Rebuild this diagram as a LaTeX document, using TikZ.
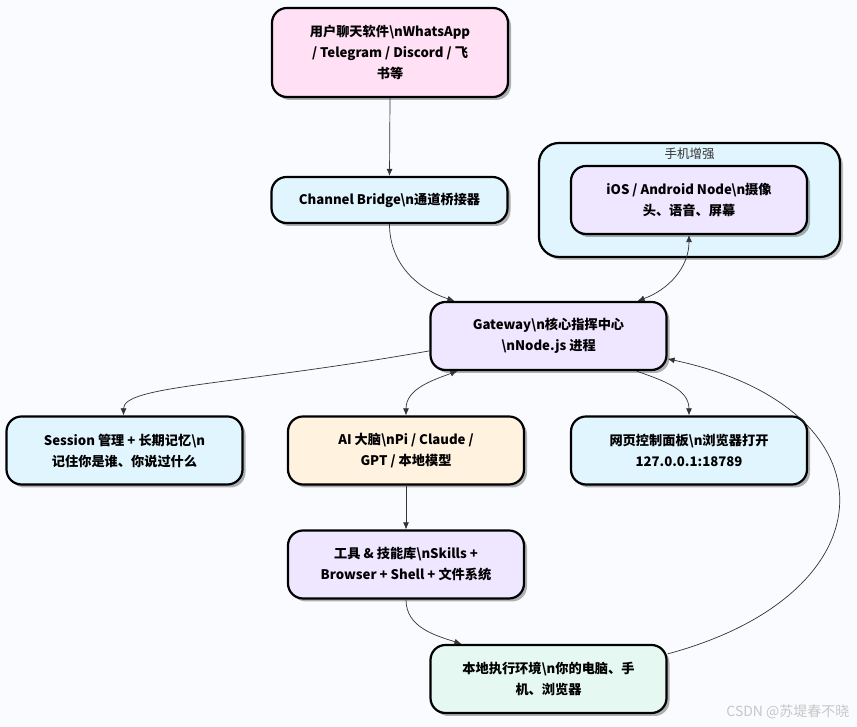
\documentclass[tikz,border=0pt]{standalone}
\usepackage{fontspec}
\setmainfont{Noto Sans CJK SC}
\usetikzlibrary{arrows.meta,shadows}
\definecolor{bgcol}{HTML}{FAFBFE}
\definecolor{pinkfill}{HTML}{FFE0F5}
\definecolor{bluefill}{HTML}{E1F5FE}
\definecolor{lilacfill}{HTML}{EFE6FF}
\definecolor{orangefill}{HTML}{FFF3E0}
\definecolor{mintfill}{HTML}{E6F8F2}
\newcommand{\bsn}{\textbackslash{}n}

\begin{document}
\begin{tikzpicture}[x=1pt,y=1pt,
	box/.style={rectangle,rounded corners=15pt,draw,line width=2.2pt,minimum width=236pt,minimum height=68pt,align=center,
		font=\bfseries\fontsize{13.2}{21}\selectfont,drop shadow={shadow xshift=3pt,shadow yshift=-3pt,opacity=.3,fill=black}},
	group/.style={rectangle,rounded corners=20pt,draw,line width=2.2pt,fill=bluefill,minimum width=301pt,minimum height=114pt,
		drop shadow={shadow xshift=3pt,shadow yshift=-3pt,opacity=.25,fill=black}},
	link/.style={draw=black!80,line width=.7pt,-{Latex[length=7pt,width=6pt]}},
	both/.style={link,{Latex[length=7pt,width=6pt]}-{Latex[length=7pt,width=6pt]}}
	]
	\useasboundingbox[fill=bgcol] (0,0) rectangle (857,727);

	\node[box,fill=pinkfill,minimum height=89pt](user) at (390,674.5){用户聊天软件\bsn WhatsApp\\/ Telegram / Discord / 飞\\书等};
	\node[box,fill=bluefill,minimum height=46pt](bridge) at (389.5,527){Channel Bridge\bsn 通道桥接器};
	\node[group](phone) at (689.5,527){};
	\node[font=\fontsize{12.5}{14}\selectfont,text=black!80](phonelabel) at (689.5,573){手机增强};
	\node[box,fill=lilacfill](ios) at (689,527){iOS / Android Node\bsn 摄像\\头、语音、屏幕};
	\node[box,fill=lilacfill](gw) at (548.5,391){Gateway\bsn 核心指挥中心\\\bsn Node.js 进程};
	\node[box,fill=bluefill](session) at (124.5,276.5){Session 管理 + 长期记忆\bsn\\记住你是谁、你说过什么};
	\node[box,fill=orangefill](ai) at (406,276.5){AI 大脑\bsn Pi / Claude /\\GPT / 本地模型};
	\node[box,fill=bluefill](web) at (689,276.5){网页控制面板\bsn 浏览器打开\\127.0.0.1:18789};
	\node[box,fill=lilacfill](tools) at (406,162.5){工具 \& 技能库\bsn Skills +\\Browser + Shell + 文件系统};
	\node[box,fill=mintfill](local) at (548.5,48){本地执行环境\bsn 你的电脑、手\\机、浏览器};
	\node[text=black!22,font=\fontsize{14}{16}\selectfont,anchor=east](mark) at (853,15){CSDN @苏堤春不晓};

	\draw[link] (user.south) -- (bridge.north);
	\draw[link] (bridge.south) to[out=-90,in=162] ([xshift=25pt]gw.north west);
	\draw[both] ([xshift=-30pt]gw.north east) to[out=20,in=-90] (ios.south);
	\draw[link] ([yshift=-50pt]gw.north west) to[out=190,in=90,out distance=200pt,in distance=30pt] ([xshift=-1pt]session.north);
	\draw[both] ([xshift=28pt]gw.south west) to[out=200,in=90] (ai.north);
	\draw[link] ([xshift=-31pt]gw.south east) to[out=-20,in=90] (web.north);
	\draw[link] (ai.south) -- (tools.north);
	\draw[link] (tools.south) to[out=-90,in=162] ([xshift=32pt]local.north west);
	\draw[link] ([yshift=-10pt]local.north east) to[out=15,in=-12,distance=235pt] ([yshift=-58pt]gw.north east);
\end{tikzpicture}
\end{document}
